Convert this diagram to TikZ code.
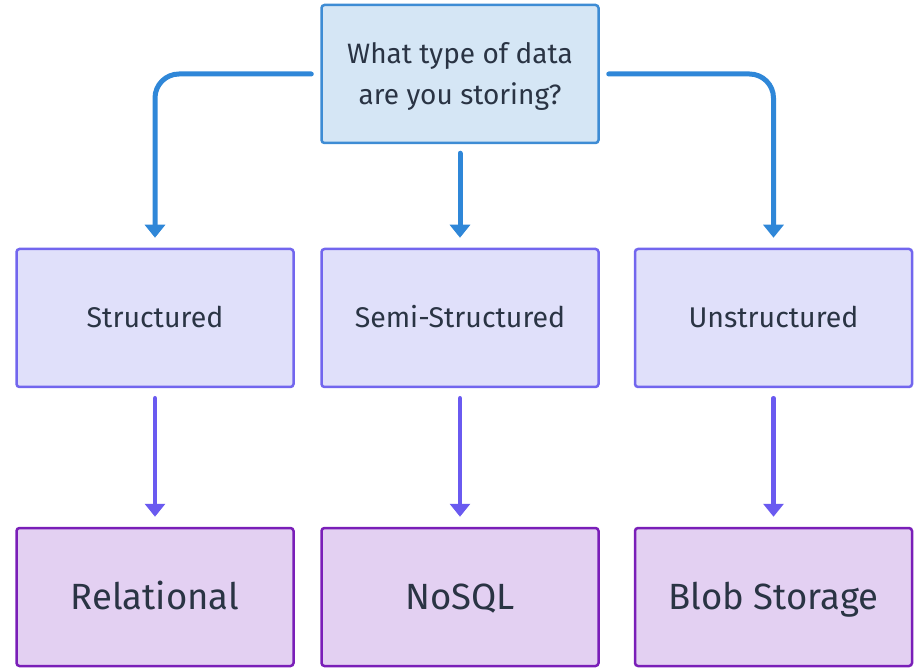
\documentclass[tikz,border=0pt]{standalone}
\usepackage{fontspec}
\setmainfont{Fira Sans}
\usetikzlibrary{arrows.meta}

\definecolor{qfill}{HTML}{D5E6F5}
\definecolor{qline}{HTML}{3E8CD4}
\definecolor{tfill}{HTML}{E0E0FA}
\definecolor{tline}{HTML}{7266EE}
\definecolor{sfill}{HTML}{E3D0F2}
\definecolor{sline}{HTML}{7A1EB8}
\definecolor{blueflow}{HTML}{2F87D8}
\definecolor{purpleflow}{HTML}{6A5AF0}
\definecolor{ink}{HTML}{2A3444}

\tikzset{
  box/.style={draw, line width=2.5pt, rounded corners=3pt,
    minimum width=277pt, minimum height=138pt, inner sep=0pt,
    text=ink, align=center},
  question/.style={box, fill=qfill, draw=qline, text depth=0pt,
    font=\fontsize{28}{41}\selectfont},
  % single-line labels: capitals centred on the box middle
  kind/.style={box, fill=tfill, draw=tline,
    text height=19.7pt, text depth=0pt,
    font=\fontsize{28.5}{34}\selectfont},
  store/.style={box, fill=sfill, draw=sline,
    text height=25.2pt, text depth=0pt,
    font=\fontsize{36.5}{44}\selectfont},
  flowblue/.style={draw=blueflow, line width=5pt, line cap=round,
    rounded corners=24pt,
    -{Triangle[length=13pt 0,width=20pt 0]}},
  flowpurple/.style={draw=purpleflow, line width=4.5pt, line cap=round,
    -{Triangle[length=13pt 0,width=20pt 0]}}
}

\begin{document}
\begin{tikzpicture}[x=1pt, y=-1pt]
  \useasboundingbox (0,0) rectangle (919,668);

  % question
  \node[question] (q) at (460,74) {What type of data\\are you storing?};

  % data kinds
  \node[kind] (st) at (155,318) {Structured};
  \node[kind] (se) at (460,318) {Semi-Structured};
  \node[kind] (un) at (773.5,318) {Unstructured};

  % storage choices
  \node[store] (re) at (155,597) {Relational};
  \node[store] (no) at (460,597) {NoSQL};
  \node[store] (bl) at (773.5,597) {Blob Storage};

  % question to kinds (yshift is in page direction: positive is up)
  \draw[flowblue] ([xshift=-9pt]q.west) -| ([yshift=10pt]st.north);
  \draw[flowblue] ([yshift=-9pt]q.south) -- ([yshift=10pt]se.north);
  \draw[flowblue] ([xshift=9pt]q.east) -| ([yshift=10pt]un.north);

  % kinds to storage
  \draw[flowpurple] ([yshift=-10pt]st.south) -- ([yshift=10pt]re.north);
  \draw[flowpurple] ([yshift=-10pt]se.south) -- ([yshift=10pt]no.north);
  \draw[flowpurple] ([yshift=-10pt]un.south) -- ([yshift=10pt]bl.north);
\end{tikzpicture}
\end{document}
